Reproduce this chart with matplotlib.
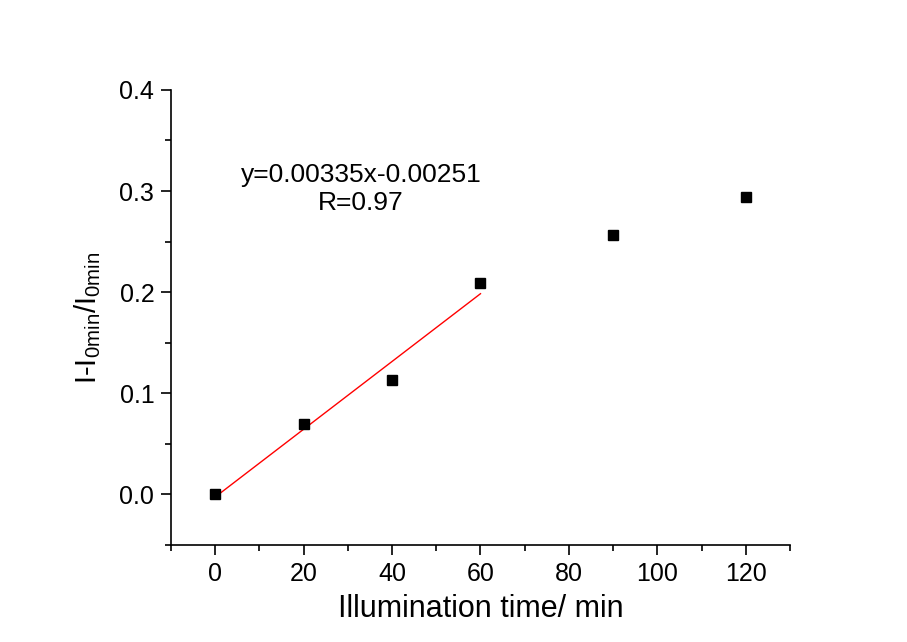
import matplotlib.pyplot as plt
import numpy as np
from matplotlib.ticker import MultipleLocator

plt.rcParams['font.family'] = ['Liberation Sans', 'DejaVu Sans']
plt.rcParams['mathtext.fontset'] = 'custom'
plt.rcParams['mathtext.rm'] = 'Liberation Sans'

# measured points
time_min = [0, 20, 40, 60, 90, 120]
ratio = [0.0, 0.070, 0.113, 0.209, 0.257, 0.294]

# linear fit over the first 4 points
slope = 0.00335
intercept = -0.00251
fit_x = [0, 60]

fig = plt.figure(figsize=(9.07, 6.42), dpi=100)
ax = fig.add_axes([0.1885, 0.151, 0.6825, 0.709])

fx = np.array(fit_x)
ax.plot(fx, slope * fx + intercept, color='red', linewidth=1)
ax.plot(time_min, ratio, linestyle='none', marker='s', markersize=7.5, color='black')

ax.set_xlim(-10, 130)
ax.set_ylim(-0.05, 0.4)
ax.xaxis.set_minor_locator(MultipleLocator(10))
ax.yaxis.set_minor_locator(MultipleLocator(0.05))
ax.set_xticks([0, 20, 40, 60, 80, 100, 120])
ax.set_yticks([0.0, 0.1, 0.2, 0.3, 0.4])
ax.set_yticklabels(['0.0', '0.1', '0.2', '0.3', '0.4'])

for s in ['top', 'right']:
    ax.spines[s].set_visible(False)
for s in ['left', 'bottom']:
    ax.spines[s].set_linewidth(1.2)
ax.tick_params(which='major', direction='out', length=7, width=1.2, labelsize=18, pad=5)
ax.tick_params(which='minor', direction='out', length=4, width=1.2)

ax.set_xlabel('Illumination time/ min', fontsize=22, labelpad=6)
ax.set_ylabel(r'I-I$_{\mathregular{0min}}$/I$_{\mathregular{0min}}$', fontsize=21, labelpad=12)

ax.text(33, 0.302, 'y=0.00335x-0.00251\nR=0.97', ha='center', va='center',
        fontsize=19, linespacing=1.25)

fig.savefig('out.png', dpi=100)
